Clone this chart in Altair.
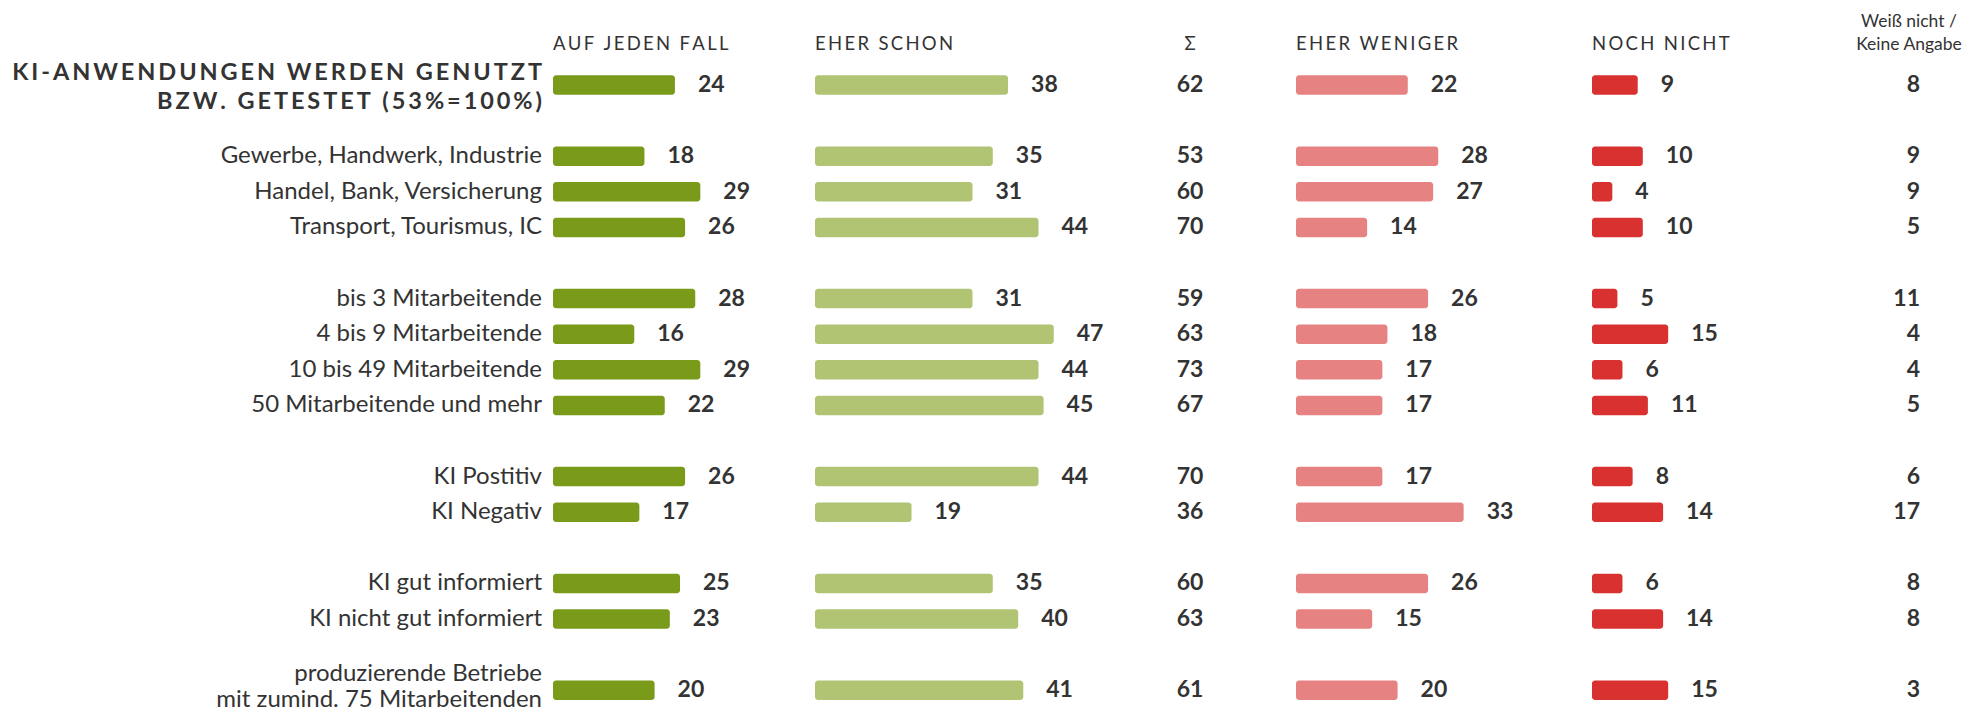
import altair as alt
import pandas as pd

# ---------------- data ----------------
labels = [
    "KI-ANWENDUNGEN WERDEN GENUTZT\nBZW. GETESTET (53%=100%)",
    "Gewerbe, Handwerk, Industrie",
    "Handel, Bank, Versicherung",
    "Transport, Tourismus, IC",
    "bis 3 Mitarbeitende",
    "4 bis 9 Mitarbeitende",
    "10 bis 49 Mitarbeitende",
    "50 Mitarbeitende und mehr",
    "KI Postitiv",
    "KI Negativ",
    "KI gut informiert",
    "KI nicht gut informiert",
    "produzierende Betriebe\nmit zumind. 75 Mitarbeitenden",
]
auf_jeden_fall = [24, 18, 29, 26, 28, 16, 29, 22, 26, 17, 25, 23, 20]
eher_schon = [38, 35, 31, 44, 31, 47, 44, 45, 44, 19, 35, 40, 41]
summe = [62, 53, 60, 70, 59, 63, 73, 67, 70, 36, 60, 63, 61]
eher_weniger = [22, 28, 27, 14, 26, 18, 17, 17, 17, 33, 26, 15, 20]
noch_nicht = [9, 10, 4, 10, 5, 15, 6, 11, 8, 14, 6, 14, 15]
weiss_nicht = [8, 9, 9, 5, 11, 4, 4, 5, 6, 17, 8, 8, 3]

headers = ["AUF JEDEN FALL", "EHER SCHON", "Σ", "EHER WENIGER", "NOCH NICHT"]
header_last = "Weiß nicht /\nKeine Angabe"

# ---------------- layout (pixels, chart coordinates) ----------------
W, H = 1956, 705
PX_PER_UNIT = 5.08
ROW_PX = 35.6
TOP_PX = 77
row_slot = [0, 2, 3, 4, 6, 7, 8, 9, 11, 12, 14, 15, 17]

col_start_px = {"auf": 545, "schon": 807, "weniger": 1288, "noch": 1584}
sum_center_px = 1182
last_right_px = 1912
label_right_px = 534
last_header_center_px = 1901
header_slot = -1.138
last_header_slot = -1.447

COLORS = {"auf": "#7a9a1a", "schon": "#b0c474", "weniger": "#e68282", "noch": "#d93030"}
TXT = "#333333"
FONT = "Lato"


def u(px):
    return px / PX_PER_UNIT


def spaced(s, sp="\u2009"):
    return "\n".join(sp.join(list(line)) for line in s.split("\n"))


xscale = alt.Scale(domain=[0, u(W)], range=[0, W], nice=False, zero=False, padding=0)
yscale = alt.Scale(domain=[-TOP_PX / ROW_PX, (H - TOP_PX) / ROW_PX], range=[0, H],
                   nice=False, zero=False, padding=0)

# ---------------- tables ----------------
series = {"auf": auf_jeden_fall, "schon": eher_schon, "weniger": eher_weniger, "noch": noch_nicht}
rows = []
for key, vals in series.items():
    for i, v in enumerate(vals):
        s = u(col_start_px[key])
        rows.append({"key": key, "slot": row_slot[i], "value": v, "x0": s, "x1": s + v})
bars_df = pd.DataFrame(rows)

n = len(labels)
single = [i for i in range(1, n) if "\n" not in labels[i]]
multi = [i for i in range(1, n) if "\n" in labels[i]]
lab_df = pd.DataFrame({"label": [labels[i] for i in single], "slot": [row_slot[i] for i in single],
                       "x": [u(label_right_px)] * len(single)})
lab2_df = pd.DataFrame({"label": [labels[i] for i in multi], "slot": [row_slot[i] for i in multi],
                        "x": [u(label_right_px)] * len(multi)})
title_df = pd.DataFrame({"label": [spaced(labels[0])], "slot": [row_slot[0]], "x": [u(label_right_px)]})
sum_df = pd.DataFrame({"value": summe, "slot": row_slot, "x": [u(sum_center_px)] * n})
last_df = pd.DataFrame({"value": weiss_nicht, "slot": row_slot, "x": [u(last_right_px)] * n})
hdr_df = pd.DataFrame({
    "text": [spaced(h) for h in headers],
    "x": [u(col_start_px["auf"]), u(col_start_px["schon"]), u(sum_center_px),
          u(col_start_px["weniger"]), u(col_start_px["noch"])],
    "align": ["left", "left", "center", "left", "left"],
    "slot": [header_slot] * 5,
})
hdr_last_df = pd.DataFrame({"text": [header_last], "slot": [last_header_slot],
                            "x": [u(last_header_center_px)]})


def X(f):
    return alt.X(f, type="quantitative", scale=xscale, axis=None)


Y = alt.Y("slot:Q", scale=yscale, axis=None)

bars = alt.Chart(bars_df).mark_bar(orient="horizontal", height=19.5, cornerRadius=3).encode(
    x=X("x0"), x2=alt.X2("x1"), y=Y,
    color=alt.Color("key:N", scale=alt.Scale(domain=list(COLORS.keys()), range=list(COLORS.values())),
                    legend=None),
)
vals = alt.Chart(bars_df).mark_text(align="left", baseline="middle", dx=23, font=FONT,
                                    fontSize=23, fontWeight="bold", color=TXT).encode(
    x=X("x1"), y=Y, text="value:Q")

row_labels = alt.Chart(lab_df).mark_text(align="right", baseline="middle", font=FONT, fontSize=24,
                                         color=TXT).encode(
    x=X("x"), y=Y, text="label:N")
row_labels2 = alt.Chart(lab2_df).mark_text(align="right", baseline="middle", font=FONT, fontSize=24,
                                           color=TXT, lineBreak="\n", lineHeight=26, dy=-16).encode(
    x=X("x"), y=Y, text="label:N")

title = alt.Chart(title_df).mark_text(align="right", baseline="middle", font=FONT, fontSize=23.5,
                                      fontWeight="bold", color=TXT, lineBreak="\n", lineHeight=28.5,
                                      dy=-12).encode(
    x=X("x"), y=Y, text="label:N")

sums = alt.Chart(sum_df).mark_text(align="center", baseline="middle", font=FONT, fontSize=23,
                                   fontWeight="bold", color=TXT).encode(
    x=X("x"), y=Y, text="value:Q")

lasts = alt.Chart(last_df).mark_text(align="right", baseline="middle", font=FONT, fontSize=23,
                                     fontWeight="bold", color=TXT).encode(
    x=X("x"), y=Y, text="value:Q")

hdr_left = alt.Chart(hdr_df).transform_filter("datum.align == 'left'").mark_text(
    align="left", baseline="middle", font=FONT, fontSize=18.5, color=TXT).encode(
    x=X("x"), y=Y, text="text:N")
hdr_center = alt.Chart(hdr_df).transform_filter("datum.align == 'center'").mark_text(
    align="center", baseline="middle", font=FONT, fontSize=18.5, color=TXT).encode(
    x=X("x"), y=Y, text="text:N")
hdr_last = alt.Chart(hdr_last_df).mark_text(
    align="center", baseline="middle", font=FONT, fontSize=17.5, color=TXT, lineBreak="\n",
    lineHeight=23, dy=-11.5).encode(
    x=X("x"), y=Y, text="text:N")

chart = alt.layer(bars, vals, row_labels, row_labels2, title, sums, lasts,
                  hdr_left, hdr_center, hdr_last).properties(
    width=W, height=H, padding=0, autosize=alt.AutoSizeParams(type="none")
).configure_view(stroke=None)

chart.save("out.html", embed_options={"renderer": "svg", "actions": False})
